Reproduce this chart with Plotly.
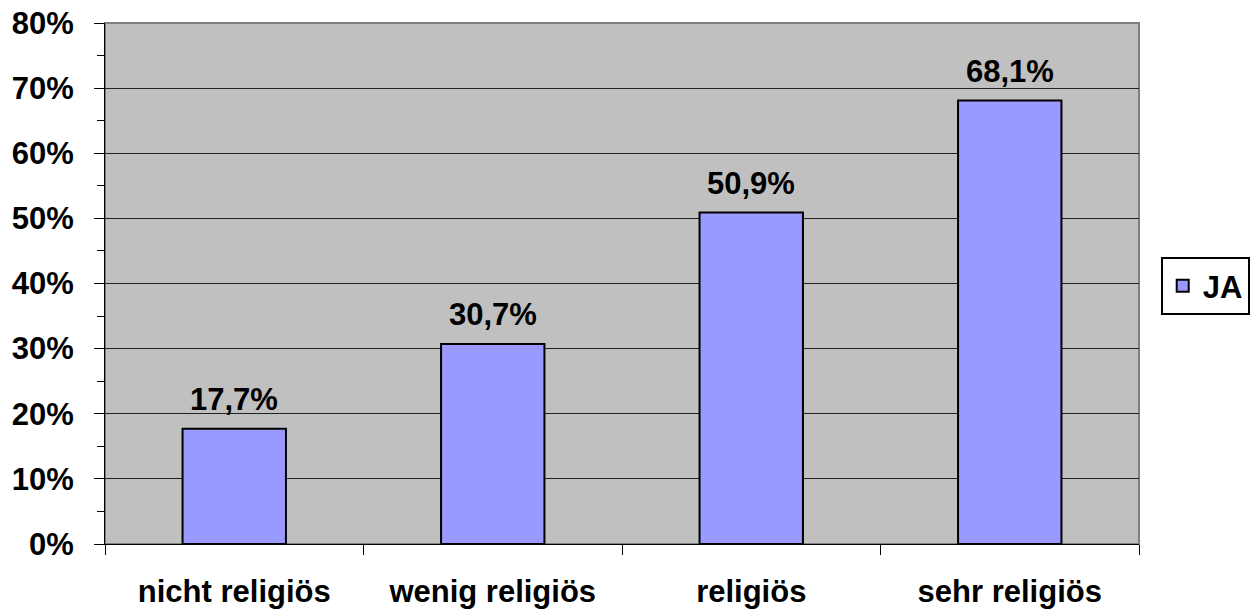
import plotly.graph_objects as go

categories = ["nicht religiös", "wenig religiös", "religiös", "sehr religiös"]
ja_values = [17.7, 30.7, 50.9, 68.1]
series_name = "JA"
y_ticks = [0, 10, 20, 30, 40, 50, 60, 70, 80]
y_tick_labels = ["0%", "10%", "20%", "30%", "40%", "50%", "60%", "70%", "80%"]

FONT = "Arial, Liberation Sans, sans-serif"
FS = 31

fig = go.Figure()
fig.add_trace(go.Bar(
    x=categories,
    y=ja_values,
    name=series_name,
    marker=dict(color="#9999FF", line=dict(color="black", width=2)),
    width=0.4,
))

for c, v in zip(categories, ja_values):
    fig.add_annotation(
        x=c, y=v, text=f"{v:.1f}%".replace(".", ","),
        showarrow=False, yanchor="bottom", yshift=10,
        font=dict(family=FONT, size=FS, color="black", weight="bold"),
    )

fig.update_layout(
    width=1255, height=609,
    margin=dict(l=105, r=116, t=23, b=65, autoexpand=False),
    paper_bgcolor="white",
    plot_bgcolor="#C0C0C0",
    font=dict(family=FONT, size=FS, color="black", weight="bold"),
    showlegend=True,
    legend=dict(
        x=1.021, y=0.495, xanchor="left", yanchor="middle",
        bgcolor="white", bordercolor="black", borderwidth=2,
        font=dict(family=FONT, size=FS, color="black", weight="bold"),
        itemwidth=30,
    ),
    bargap=0.6,
)

fig.update_xaxes(
    automargin=False,
    showgrid=False,
    showline=True, linecolor="black", linewidth=1,
    ticks="outside", ticklen=10, tickcolor="black", tickwidth=1,
    tickson="boundaries",
    ticklabelstandoff=20,
    tickfont=dict(family=FONT, size=FS, color="black", weight="bold"),
)

fig.update_yaxes(
    automargin=False,
    range=[0, 80],
    tickvals=y_ticks,
    ticktext=y_tick_labels,
    showgrid=True, gridcolor="#222222", gridwidth=1,
    showline=True, linecolor="black", linewidth=1,
    ticks="outside", ticklen=10, tickcolor="black", tickwidth=1,
    minor=dict(dtick=5, ticks="outside", ticklen=7, tickcolor="black", showgrid=False),
    ticklabelstandoff=14,
    zeroline=False,
    tickfont=dict(family=FONT, size=FS, color="black", weight="bold"),
)

fig.add_shape(type="rect", xref="paper", yref="paper", x0=0, x1=1, y0=0, y1=1,
              line=dict(color="#808080", width=2), layer="below")

fig.write_html("out.html")
